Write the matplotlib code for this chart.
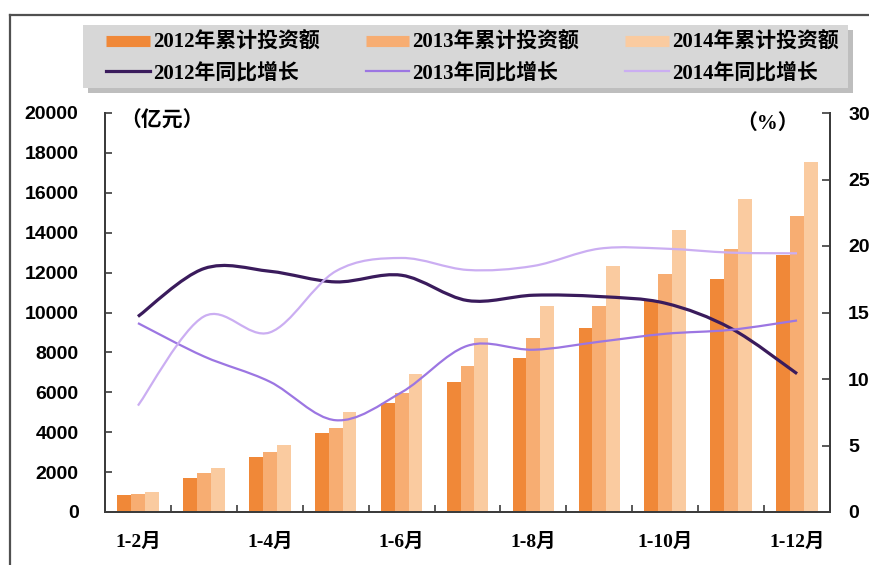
import matplotlib
matplotlib.use('Agg')
import matplotlib.pyplot as plt
import numpy as np
from matplotlib.path import Path
from matplotlib.patches import PathPatch, Rectangle
from matplotlib.lines import Line2D
from matplotlib.font_manager import FontProperties

# ---------------- data ----------------
categories = ['1-2月', '1-3月', '1-4月', '1-5月', '1-6月', '1-7月',
              '1-8月', '1-9月', '1-10月', '1-11月', '1-12月']
tick_labels = ['1-2月', '1-4月', '1-6月', '1-8月', '1-10月', '1-12月']

inv2012 = [850, 1720, 2770, 3980, 5450, 6530, 7730, 9240, 10630, 11660, 12880]
inv2013 = [920, 1940, 3020, 4190, 5950, 7330, 8700, 10330, 11930, 13180, 14850]
inv2014 = [1020, 2220, 3360, 5030, 6920, 8700, 10340, 12350, 14140, 15670, 17540]

g2012 = [14.7, 18.3, 18.1, 17.3, 17.8, 15.9, 16.3, 16.2, 15.7, 13.8, 10.4]
g2013 = [14.2, 11.7, 9.8, 6.9, 9.0, 12.5, 12.2, 12.8, 13.4, 13.7, 14.4]
g2014 = [8.0, 14.7, 13.5, 18.1, 19.1, 18.2, 18.5, 19.8, 19.8, 19.5, 19.45]

bar_names = ['2012年累计投资额', '2013年累计投资额', '2014年累计投资额']
line_names = ['2012年同比增长', '2013年同比增长', '2014年同比增长']

# ---------------- style ----------------
bar_colors = ['#F08838', '#F7AD72', '#FACBA0']
line_colors = ['#3A1B5C', '#9C76E2', '#CBAEF2']
line_widths = [2.3, 1.6, 1.6]
spine_color = '#3c3c3c'

cjk = ['Liberation Serif', 'Noto Sans CJK SC']
fp_cjk = FontProperties(family=cjk, weight='bold', size=14)
fp_leg = FontProperties(family=cjk, weight='bold', size=15)
fp_num = FontProperties(family=['Liberation Sans', 'DejaVu Sans'], weight='bold', size=14)

W, H = 870, 565
fig = plt.figure(figsize=(W / 100, H / 100), dpi=100)
fig.patch.set_facecolor('white')

ax = fig.add_axes([105 / W, (H - 512) / H, 725 / W, 399 / H])
x = np.arange(len(categories))
bw = 0.21
for i, (vals, col) in enumerate(zip([inv2012, inv2013, inv2014], bar_colors)):
    ax.bar(x + (i - 1) * bw, vals, bw, color=col, linewidth=0, zorder=2)

ax.set_xlim(-0.5, len(categories) - 0.5)
ax.set_ylim(0, 20000)
ax.set_yticks(np.arange(0, 20001, 2000))
ax.set_xticks([categories.index(t) for t in tick_labels])
ax.set_xticklabels(tick_labels, fontproperties=fp_cjk)
ax.set_xticks(np.arange(0.5, len(categories) - 0.5, 1), minor=True)
ax.tick_params(axis='x', which='major', length=0, pad=15)
ax.tick_params(axis='x', which='minor', direction='in', length=5, width=1.2, color=spine_color)
ax.tick_params(axis='y', direction='in', length=5, width=1.2, color=spine_color, pad=19)
for lab in ax.get_yticklabels():
    lab.set_fontproperties(fp_num)

ax2 = ax.twinx()
ax2.set_ylim(0, 30)
ax2.set_yticks(np.arange(0, 31, 5))
ax2.tick_params(axis='y', direction='in', length=6, width=1.2, color=spine_color, pad=13)
for lab in ax2.get_yticklabels():
    lab.set_fontproperties(fp_num)

for a in (ax, ax2):
    a.spines['top'].set_visible(False)
    for s in ('left', 'right', 'bottom'):
        a.spines[s].set_color(spine_color)
        a.spines[s].set_linewidth(1.4)
    a.patch.set_visible(False)


def smooth_path(xs, ys):
    pts = np.column_stack([xs, ys]).astype(float)
    n = len(pts)
    verts = [pts[0]]
    codes = [Path.MOVETO]
    for i in range(n - 1):
        p0 = pts[max(i - 1, 0)]
        p1 = pts[i]
        p2 = pts[i + 1]
        p3 = pts[min(i + 2, n - 1)]
        c1 = p1 + (p2 - p0) / 6.0
        c2 = p2 - (p3 - p1) / 6.0
        verts += [c1, c2, p2]
        codes += [Path.CURVE4] * 3
    return Path(verts, codes)


for vals, col, lw in zip([g2012, g2013, g2014], line_colors, line_widths):
    patch = PathPatch(smooth_path(x, vals), facecolor='none', edgecolor=col,
                      linewidth=lw, transform=ax2.transData, zorder=3,
                      capstyle='butt', joinstyle='round')
    ax2.add_patch(patch)

# unit labels
fp_unit = FontProperties(family=cjk, weight='bold', size=15)
fig.text(120 / W, 1 - 122 / H, '（亿元）', fontproperties=fp_unit, ha='left', va='center')
fig.text(768 / W, 1 - 124 / H, '（%）', fontproperties=fp_unit, ha='center', va='center')

# legend background with shadow
fig.add_artist(Rectangle(((83 + 5) / W, 1 - (88 + 5) / H), 765 / W, 63 / H,
                         transform=fig.transFigure, facecolor='#a8a8a8',
                         edgecolor='none', alpha=0.75, zorder=0.5))
fig.add_artist(Rectangle((83 / W, 1 - 88 / H), 765 / W, 63 / H,
                         transform=fig.transFigure, facecolor='#D7D7D7',
                         edgecolor='none', zorder=0.6))

handles = []
labels = []
for k in range(3):
    handles.append(Line2D([], [], color=bar_colors[k], lw=8, solid_capstyle='butt'))
    labels.append(bar_names[k])
    handles.append(Line2D([], [], color=line_colors[k], lw=2.3 if k == 0 else 1.6))
    labels.append(line_names[k])
leg = fig.legend(handles, labels, ncol=3, loc='center left',
                 bbox_to_anchor=(106 / W, 1 - 58 / H, 733 / W, 0),
                 mode='expand', borderaxespad=0, borderpad=0, prop=fp_leg,
                 handlelength=2.1, handletextpad=0.15, labelspacing=0.45,
                 frameon=False)

# outer frame (left and top edges)
fig.add_artist(Line2D([10 / W, 10 / W], [0, 1 - 15 / H], color='#505050', lw=1.6,
                      transform=fig.transFigure))
fig.add_artist(Line2D([10 / W, 1], [1 - 15 / H, 1 - 15 / H], color='#505050', lw=1.6,
                      transform=fig.transFigure))

fig.savefig('out.png', dpi=100)
